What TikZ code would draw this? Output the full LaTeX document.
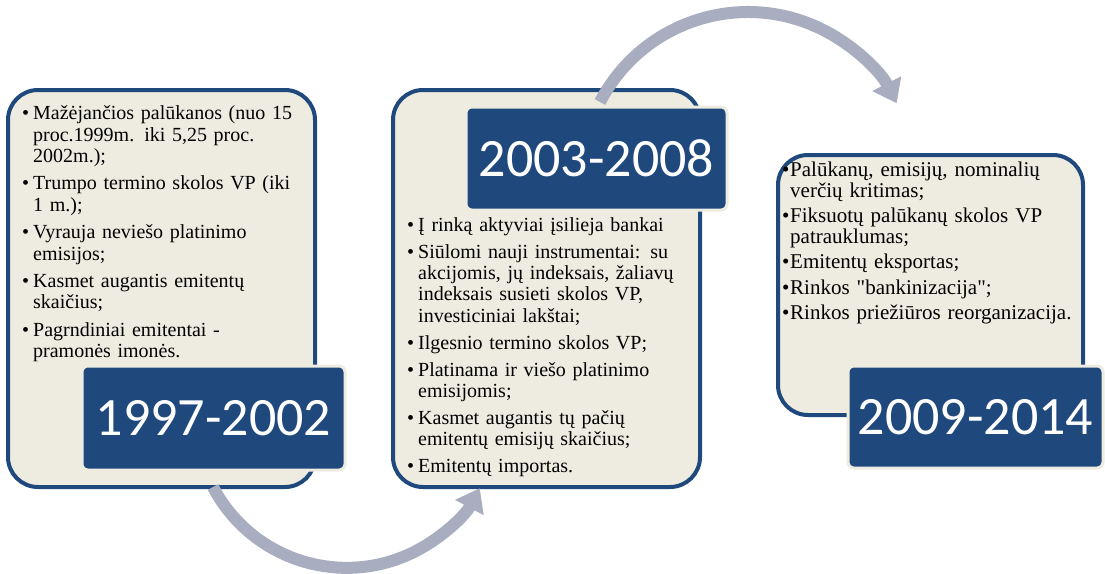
\documentclass[tikz,border=0pt]{standalone}
\usepackage{fontspec}
\setmainfont{Liberation Serif}
\newfontfamily\qfont{Liberation Serif}
\newfontfamily\yearfont{Carlito}
\usetikzlibrary{arrows.meta}
\definecolor{boxblue}{HTML}{1F497D}
\definecolor{boxtan}{HTML}{EEECE1}
\definecolor{arrowgray}{HTML}{A8AEC0}
\newlength{\bind}
\setlength{\bind}{11pt}
\newcommand{\bitem}[1]{\par\hangindent=\bind\hangafter=1\noindent\makebox[\bind][l]{\textbullet}#1}
\begin{document}
\begin{tikzpicture}[x=1pt,y=-1pt,
  bigbox/.style={draw=boxblue, line width=4pt, fill=boxtan, rounded corners=30pt, inner sep=0pt},
  yearbox/.style={draw=boxtan, line width=3pt, fill=boxblue, rounded corners=6pt, inner sep=0pt,
    text=white, font=\yearfont\fontsize{54}{60}\selectfont},
  txt/.style={inner sep=0pt, align=left, anchor=north west,
    font=\fontsize{20}{21.4}\selectfont, execute at begin node={\setlength{\parskip}{6pt}}},
  bigarrow/.style={draw=arrowgray, line width=12pt, -{Triangle[width=31pt,length=22pt]}}]
\useasboundingbox[fill=white] (0,0) rectangle (1105,573);
% content boxes
\node[bigbox, minimum width=307pt, minimum height=397pt] (b1) at (161.5,288.5) {};
\node[bigbox, minimum width=307pt, minimum height=397pt] (b2) at (546.5,288.5) {};
\node[bigbox, minimum width=305pt, minimum height=260pt] (b3) at (930.5,285) {};
% arrows
\coordinate (a1s) at (213,487);
\coordinate (a2s) at (600,102);
\draw[bigarrow] (a1s) arc[start angle=152.3, end angle=28.2, radius=151];
\draw[bigarrow] (a2s) arc[start angle=-152.6, end angle=-26.9, radius=166.7];
% year boxes
\node[yearbox, minimum width=263pt, minimum height=104pt] (y1) at (213.5,418) {1997-2002};
\node[yearbox, minimum width=261pt, minimum height=103pt] (y2) at (596.5,158.5) {2003-2008};
\node[yearbox, minimum width=255pt, minimum height=102pt] (y3) at (975.5,417) {2009-2014};
% texts
\node[txt, text width=290pt] (t1) at (22,92) {%
\bitem{Mažėjančios palūkanos (nuo 15\newline proc.1999m. iki 5,25 proc.\newline 2002m.);}
\bitem{Trumpo termino skolos VP (iki\newline 1 m.);}
\bitem{Vyrauja neviešo platinimo\newline emisijos;}
\bitem{Kasmet augantis emitentų\newline skaičius;}
\bitem{Pagrndiniai emitentai -\newline pramonės imonės.}\par};
\node[txt, text width=290pt, execute at begin node={\setlength{\parskip}{5.5pt}}] (t2) at (407,204) {%
\bitem{Į rinką aktyviai įsilieja bankai}
\bitem{Siūlomi nauji instrumentai: su\newline akcijomis, jų indeksais, žaliavų\newline indeksais susieti skolos VP,\newline investiciniai lakštai;}
\bitem{Ilgesnio termino skolos VP;}
\bitem{Platinama ir viešo platinimo\newline emisijomis;}
\bitem{Kasmet augantis tų pačių\newline emitentų emisijų skaičius;}
\bitem{Emitentų importas.}\par};
\node[txt, text width=310pt, font=\fontsize{21}{20.5}\selectfont,
  execute at begin node={\setlength{\parskip}{5pt}\setlength{\bind}{8pt}}] (t3) at (782,151) {%
\bitem{Palūkanų, emisijų, nominalių\newline verčių kritimas;}
\bitem{Fiksuotų palūkanų skolos VP\newline patrauklumas;}
\bitem{Emitentų eksportas;}
\bitem{Rinkos {\qfont"}bankinizacija{\qfont"};}
\bitem{Rinkos priežiūros reorganizacija.}\par};
\end{tikzpicture}
\end{document}
